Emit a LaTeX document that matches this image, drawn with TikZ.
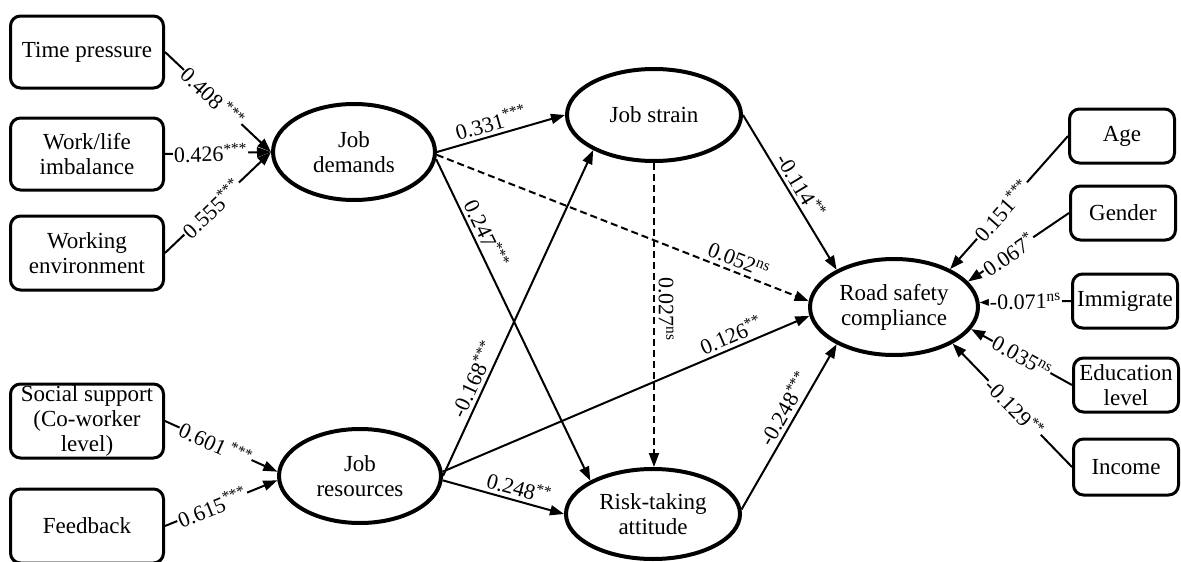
\documentclass[tikz,border=0pt]{standalone}
\usepackage{fontspec}
\setmainfont{Liberation Serif}
\usetikzlibrary{arrows.meta,shapes.geometric}
\begin{document}
\begin{tikzpicture}[x=1pt,y=-1pt,
  box/.style={draw, line width=3pt, rounded corners=10pt, align=center,
    font=\fontsize{23}{25}\selectfont, inner sep=0pt},
  lbox/.style={box, minimum width=153pt},
  rbox/.style={box, minimum width=105pt},
  lat/.style={ellipse, draw, line width=4pt, align=center,
    font=\fontsize{23}{25}\selectfont, inner sep=0pt},
  arr/.style={line width=2pt, -{Triangle[length=14pt,width=10pt]}},
  dsh/.style={arr, dash pattern=on 7pt off 4pt},
  lbl/.style={font=\fontsize{22}{24}\selectfont, sloped, inner sep=3.5pt},
  cut/.style={lbl, fill=white, inner sep=1pt},
]
\useasboundingbox (0,0) rectangle (1181,562);

% left observed boxes
\node[lbox, minimum height=72pt] (tp) at (87,52) {Time pressure};
\node[lbox, minimum height=72pt] (wl) at (87,154) {Work/life\\imbalance};
\node[lbox, minimum height=74pt] (we) at (87,253) {Working\\environment};
\node[lbox, minimum height=74pt] (ss) at (87,421) {Social support\\(Co-worker\\level)};
\node[lbox, minimum height=74pt] (fb) at (87,526) {Feedback};

% latent constructs
\node[lat, minimum width=162pt, minimum height=96pt] (jd) at (354,152) {Job\\demands};
\node[lat, minimum width=174pt, minimum height=92pt] (js) at (654,115) {Job strain};
\node[lat, minimum width=162pt, minimum height=94pt] (jr) at (360,476) {Job\\resources};
\node[lat, minimum width=174pt, minimum height=90pt] (rt) at (653,514) {Risk-taking\\attitude};
\node[lat, minimum width=168pt, minimum height=96pt] (rsc) at (894,307) {Road safety\\compliance};

% right control boxes
\node[rbox, minimum height=54pt] (age) at (1122,136) {Age};
\node[rbox, minimum height=54pt] (gen) at (1123,213) {Gender};
\node[rbox, minimum height=54pt] (imm) at (1125,301) {Immigrate};
\node[rbox, minimum height=54pt] (edu) at (1126,385) {Education\\level};
\node[rbox, minimum height=56pt] (inc) at (1126,467) {Income};

% measurement paths
\draw[arr] (tp.east) -- node[cut,pos=.45]{0.408\,\textsuperscript{***}} (jd.west);
\draw[arr] (wl.east) -- node[cut,pos=.43]{0.426\textsuperscript{***}} (jd.west);
\draw[arr] (we.east) -- node[cut,pos=.44]{0.555\textsuperscript{***}} (jd.west);
\draw[arr] (ss.east) -- node[cut,pos=.45]{0.601\,\textsuperscript{***}} (jr.177);
\draw[arr] (fb.east) -- node[cut,pos=.42]{0.615\textsuperscript{***}} (jr.183);

% structural paths
\draw[arr] (jd.east) -- node[lbl,above,pos=.45]{0.331\textsuperscript{***}} (js.west);
\draw[arr] (jd.-5) -- node[lbl,above,pos=.25]{0.247\textsuperscript{***}} (rt.152);
\draw[dsh] (jd.-2) -- node[lbl,above,pos=.8]{0.052\textsuperscript{ns}} (rsc.176);
\draw[arr] (jr.east) -- node[lbl,above,pos=.28]{-0.168\textsuperscript{***}} (js.210);
\draw[arr] (jr.3) -- node[lbl,above,pos=.8]{0.126\textsuperscript{**}} (rsc.186);
\draw[arr] (jr.-3) -- node[lbl,above,pos=.6]{0.248\textsuperscript{**}} (rt.west);
\draw[dsh] (js.south) -- node[lbl,above,pos=.48]{0.027\textsuperscript{ns}} (js.south |- rt.north);
\draw[arr] (js.east) -- node[lbl,above,pos=.5]{-0.114\textsuperscript{**}} (rsc.147);
\draw[arr] (rt.3) -- node[lbl,above,pos=.57]{-0.248\textsuperscript{***}} (rsc.213);

% control paths
\draw[arr] (age.west) -- node[cut,pos=.56]{0.151\textsuperscript{***}} (rsc.34);
\draw[arr] (gen.west) -- node[cut,pos=.6]{0.067\textsuperscript{*}} (rsc.19);
\draw[arr] (imm.west) -- node[cut,pos=.5]{-0.071\textsuperscript{ns}} (rsc.3);
\draw[arr] (edu.west) -- node[cut,pos=.5]{0.035\textsuperscript{ns}} (rsc.-16);
\draw[arr] (inc.west) -- node[cut,pos=.48]{-0.129\textsuperscript{**}} (rsc.-32);
\end{tikzpicture}
\end{document}
